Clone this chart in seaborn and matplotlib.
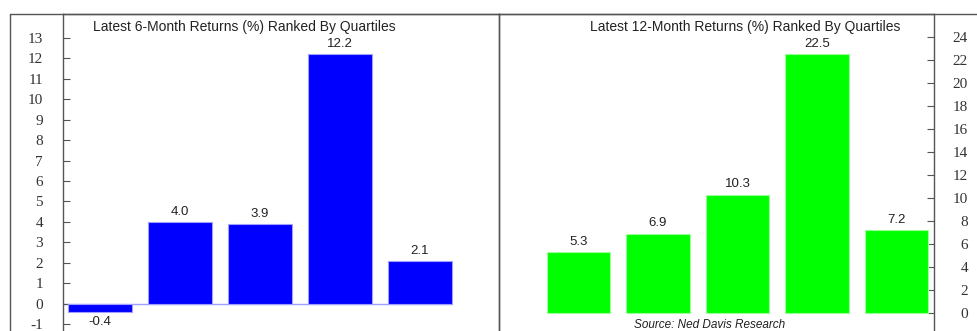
import matplotlib
matplotlib.use("Agg")
import matplotlib.pyplot as plt
from matplotlib.lines import Line2D
import seaborn as sns
import pandas as pd

groups = ["Group 1", "Group 2", "Group 3", "Group 4", "Group 5"]
ret_6m = [-0.4, 4.0, 3.9, 12.2, 2.1]
ret_12m = [5.3, 6.9, 10.3, 22.5, 7.2]
title_6m = "Latest 6-Month Returns (%) Ranked By Quartiles"
title_12m = "Latest 12-Month Returns (%) Ranked By Quartiles"
source = "Source: Ned Davis Research"
yticks_6m = list(range(-1, 14))
yticks_12m = list(range(0, 25, 2))

sns.set_theme(style="white")
plt.rcParams["font.family"] = ["Liberation Sans", "DejaVu Sans"]

W, H = 977, 331
fig = plt.figure(figsize=(W / 100, H / 100), dpi=100)

def fx(px):
    return px / W

def fy(py):
    return 1 - py / H

top = 14
ax1 = fig.add_axes([fx(63), 0, fx(499 - 63), (H - top) / H])
ax2 = fig.add_axes([fx(499), 0, fx(934 - 499), (H - top) / H])

df1 = pd.DataFrame({"group": groups, "ret": ret_6m})
df2 = pd.DataFrame({"group": groups, "ret": ret_12m})

line_col = "#555555"
text_col = "#222222"

sns.barplot(data=df1, x="group", y="ret", ax=ax1, color="#0000ff", saturation=1,
            width=0.8, edgecolor="#a0a0ff", linewidth=0.8)
sns.barplot(data=df2, x="group", y="ret", ax=ax2, color="#00ff00", saturation=1,
            width=0.8, edgecolor="#9cff9c", linewidth=0.8)

ax1.hlines(0, -0.5, 4.4, color="#a0a0ff", lw=1, zorder=0.5)

ax1.set_xlim(-0.4625, 4.99)
ax1.set_ylim(-1.34, 14.17)
ax2.set_xlim(-1.0, 4.47)
ax2.set_ylim(-1.57, 26.0)

for ax, vals in ((ax1, ret_6m), (ax2, ret_12m)):
    ax.bar_label(ax.containers[0], labels=[f"{v:.1f}" for v in vals], padding=3,
                 fontsize=9.5, color=text_col)
    ax.set_xlabel("")
    ax.set_ylabel("")
    ax.set_xticks([])
    for s in ax.spines.values():
        s.set_color(line_col)
        s.set_linewidth(1.0)
    ax.spines["bottom"].set_visible(False)
    ax.patch.set_alpha(0)

ax1.set_yticks(yticks_6m)
ax1.set_yticklabels([str(t) for t in yticks_6m])
ax1.tick_params(axis="y", direction="in", length=5, width=0.8, color=line_col,
                pad=14.4, labelsize=11, labelcolor="#333333", left=True)
for lab in ax1.get_yticklabels():
    lab.set_fontfamily("Liberation Serif")

ax2.yaxis.tick_right()
ax2.set_yticks(yticks_12m)
ax2.set_yticklabels([str(t) for t in yticks_12m])
ax2.tick_params(axis="y", direction="in", length=5, width=0.8, color=line_col,
                pad=24.5, labelsize=11, labelcolor="#333333", right=True, left=False)
for lab in ax2.get_yticklabels():
    lab.set_fontfamily("Liberation Serif")
    lab.set_horizontalalignment("right")

ax1.text(0.417, 0.959, title_6m, transform=ax1.transAxes, ha="center", va="center",
         fontsize=10, color=text_col)
ax2.text(0.566, 0.959, title_12m, transform=ax2.transAxes, ha="center", va="center",
         fontsize=10, color=text_col)
ax2.text(0.485, 0.018, source, transform=ax2.transAxes, ha="center", va="center",
         fontsize=8.5, style="italic", color=text_col)

# outer frame lines
fig.add_artist(Line2D([fx(10), 1], [fy(top), fy(top)], color=line_col, lw=1.0))
fig.add_artist(Line2D([fx(10), fx(10)], [0, fy(top)], color=line_col, lw=1.0))

fig.savefig("out.png", dpi=100)
